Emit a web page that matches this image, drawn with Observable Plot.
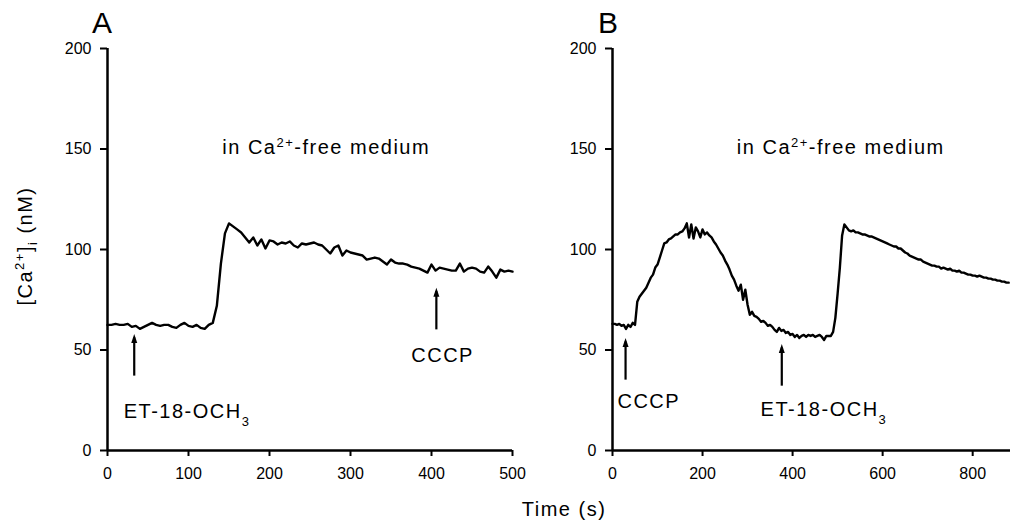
<!DOCTYPE html>
<html>
<head>
<meta charset="utf-8">
<script src="https://cdn.jsdelivr.net/npm/d3@7"></script>
<script src="https://cdn.jsdelivr.net/npm/@observablehq/plot@0.6"></script>
<style>
  body { margin: 0; background: #fff; }
  #wrap { position: relative; width: 1010px; height: 521px; overflow: hidden; background: #fff;
          font-family: "Liberation Sans", Arial, sans-serif; color: #000; }
  .abs { position: absolute; white-space: nowrap; line-height: 1; }
  .abs sup, .abs sub { font-size: 65%; line-height: 0; }
  #ylab { left: 25px; top: 246px; font-size: 20px; letter-spacing: 1.5px; transform: translate(-50%, -50%) rotate(-90deg); }
  #xlab { left: 564px; top: 499px; font-size: 20px; letter-spacing: 1.5px; transform: translateX(-50%); }
  .panel { font-size: 30px; top: 8px; }
  #pa { left: 92px; }
  #pb { left: 598px; }
</style>
</head>
<body>
<div id="wrap">
  <div class="abs panel" id="pa">A</div>
  <div class="abs panel" id="pb">B</div>
  <div class="abs" id="ylab">[Ca<sup>2+</sup>]<sub>i</sub> (nM)</div>
  <div class="abs" id="xlab">Time (s)</div>
</div>
<script>
// ---- Data: [Ca2+]i (nM), sampled every 5 s ----
const stepA = 5;
const valuesA = [
  62.5, 62.5, 63, 62.5, 62.5, 63, 61.5, 62, 60.5, 61.5,
  62.5, 63.5, 62.5, 62, 62.5, 62.5, 61.5, 61, 62.5, 63.5,
  62, 61.5, 62.5, 61, 60.5, 62.5, 63.5, 72, 93, 108,
  113, 111.5, 110, 108.5, 106, 103.5, 106, 102, 105, 100.5,
  104.5, 104, 102.5, 103.5, 103, 104, 102, 101, 103, 102.5,
  103, 103.5, 102.5, 102, 100, 98, 101, 102, 97, 99.5,
  98.5, 98, 97.5, 97, 95, 95.5, 96, 95.5, 94, 92.5,
  95, 93.5, 93, 93, 92.5, 91.5, 91, 90.5, 89.5, 88.5,
  92.5, 89.5, 91, 90.5, 90, 89.5, 89.5, 93, 89, 90.5,
  91, 90.5, 89, 88.5, 91.5, 89, 86, 90, 89, 89.5,
  89
];

const stepB = 5;
const valuesB = [
  63, 63, 62.5, 63, 62, 62.5, 60.5, 62.5, 61.5, 63.5,
  62.5, 74, 76.5, 78, 79.5, 81, 83.5, 86, 87.5, 91,
  92.5, 96, 99.5, 103, 103.5, 105, 105.5, 106.5, 107.5, 107.5,
  108.5, 109, 110.5, 113, 106, 112.5, 105.5, 111, 109, 106,
  110, 107.5, 108.5, 107, 106, 104, 102.5, 100.5, 98.5, 97,
  94.5, 92.5, 90, 87, 85, 82, 79.5, 82.5, 75, 80,
  72.5, 67.5, 69, 67, 66.5, 65.5, 64, 64.5, 63.5, 62,
  62.5, 61.5, 60, 59, 61, 59.5, 60, 58.5, 59, 57.5,
  58, 56.5, 57.5, 56, 57, 57.5, 56.5, 57.5, 57, 57.5,
  56.5, 57, 57.5, 56.5, 55, 57, 57, 57, 59, 66,
  78, 91, 107, 112.5, 111, 109.5, 109, 109.5, 108.5, 108.5,
  108, 107.5, 107.5, 107, 106.5, 106.5, 106, 105.5, 105, 104.5,
  104, 103.5, 103, 102.5, 102, 101.5, 101.5, 100.5, 100.5, 99.5,
  98.5, 98, 97, 96.5, 96, 95.5, 95, 95, 94, 93.5,
  93, 92.5, 92, 92, 91.5, 91.5, 90.5, 91, 90.5, 90,
  90.5, 89.5, 89.5, 89, 89.5, 88.5, 88.5, 88, 87.5, 87.5,
  87, 87, 86.5, 87, 86.5, 86, 86, 85.5, 85.5, 85,
  85, 84.5, 84.5, 84, 84, 83.5, 83.5
];

// ---- Tick labels ----
const yTicks = [0, 50, 100, 150, 200];
const xTicksA = [0, 100, 200, 300, 400, 500];
const xTicksB = [0, 200, 400, 600, 800];

// ---- Annotations (time of addition, arrow extent in nM) ----
const arrowsA = [{t: 33, from: 39, to: 58}, {t: 406, from: 62, to: 81}];
const labelsA = [{t: 20, v: 16.4, text: "ET-18-OCH_{3}"}, {t: 375, v: 43.8, text: "CCCP"}];
const mediumA = [{t: 270, v: 147.3, text: "in Ca^{2+}-free medium"}];

const arrowsB = [{t: 29, from: 37, to: 56}, {t: 376, from: 34, to: 53}];
const labelsB = [{t: 11, v: 20.9, text: "CCCP"}, {t: 329, v: 17.4, text: "ET-18-OCH_{3}"}];
const mediumB = [{t: 507, v: 147.3, text: "in Ca^{2+}-free medium"}];

const arrowHead = {
  draw(context) {
    context.moveTo(0, 0);
    context.lineTo(-3, 9);
    context.lineTo(3, 9);
    context.closePath();
  }
};

const FONT = '"Liberation Sans", Arial, sans-serif';

function richText(svg) {
  d3.select(svg).selectAll('g[aria-label="text"] text').each(function () {
    const s = this.textContent;
    this.setAttribute("letter-spacing", "1.5");
    if (!/[\^_]\{/.test(s)) return;
    const parts = s.split(/(\^\{[^}]*\}|_\{[^}]*\})/).filter(p => p);
    this.textContent = "";
    for (const p of parts) {
      const ts = document.createElementNS("http://www.w3.org/2000/svg", "tspan");
      if (p.startsWith("^{")) {
        ts.textContent = p.slice(2, -1);
        ts.setAttribute("baseline-shift", "super");
        ts.setAttribute("font-size", "65%");
      } else if (p.startsWith("_{")) {
        ts.textContent = p.slice(2, -1);
        ts.setAttribute("baseline-shift", "sub");
        ts.setAttribute("font-size", "65%");
      } else {
        ts.textContent = p;
      }
      this.appendChild(ts);
    }
  });
}

function panel({values, step, xDomain, xTicks, width, marginRight, arrows, labels, medium}) {
  const data = values.map((v, i) => ({t: i * step, v}));
  const svg = Plot.plot({
    width, height: 521,
    marginTop: 48, marginBottom: 71, marginLeft: 107, marginRight,
    style: {background: "transparent", fontFamily: FONT, overflow: "visible", color: "#000"},
    x: {domain: xDomain},
    y: {domain: [0, 200]},
    marks: [
      Plot.axisX({ticks: xTicks, tickSize: 6, tickPadding: 11, fontSize: 16, label: null, strokeWidth: 2}),
      Plot.axisY({ticks: yTicks, tickSize: 7, tickPadding: 9, fontSize: 16, label: null, strokeWidth: 2}),
      Plot.ruleX([0], {strokeWidth: 2.5}),
      Plot.ruleY([0], {strokeWidth: 2.5}),
      Plot.line(data, {x: "t", y: "v", stroke: "#000", strokeWidth: 2.4, strokeLinejoin: "round"}),
      Plot.ruleX(arrows, {x: "t", y1: "from", y2: "to", strokeWidth: 2.2, dy: 4}),
      Plot.dot(arrows, {x: "t", y: "to", symbol: arrowHead, fill: "#000", stroke: null}),
      Plot.text(labels, {x: "t", y: "v", text: "text", textAnchor: "start", lineAnchor: "bottom", fontSize: 20, fill: "#000"}),
      Plot.text(medium, {x: "t", y: "v", text: "text", textAnchor: "middle", lineAnchor: "bottom", fontSize: 20, fill: "#000"})
    ]
  });
  richText(svg);
  svg.style.position = "absolute";
  svg.style.top = "0px";
  return svg;
}

const wrap = document.getElementById("wrap");
const svgA = panel({values: valuesA, step: stepA, xDomain: [0, 500], xTicks: xTicksA, width: 520, marginRight: 8,
                    arrows: arrowsA, labels: labelsA, medium: mediumA});
svgA.style.left = "0px";
const svgB = panel({values: valuesB, step: stepB, xDomain: [0, 884], xTicks: xTicksB, width: 505, marginRight: 0,
                    arrows: arrowsB, labels: labelsB, medium: mediumB});
svgB.style.left = "505px";
wrap.insertBefore(svgA, wrap.firstChild);
wrap.insertBefore(svgB, wrap.firstChild.nextSibling);
</script>
</body>
</html>
